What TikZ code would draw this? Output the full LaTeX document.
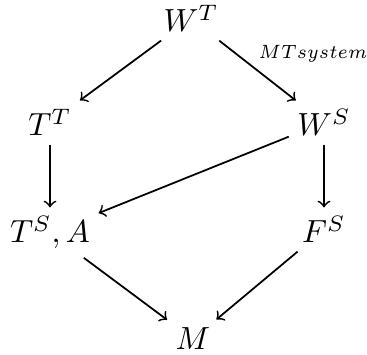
\documentclass[tikz,border=0pt]{standalone}
\begin{document}
\begin{tikzpicture}[x=0.3125pt,y=-0.3125pt,
  obj/.style={anchor=base,inner sep=2.5pt},
  arr/.style={->,line width=0.55pt}]
\useasboundingbox (0,0) rectangle (367,355);
\node[obj] (WT) at (191,32) {$W^T$};
\node[obj] (TT) at (50,136) {$T^T$};
\node[obj] (WS) at (324,136) {$W^S$};
\node[obj] (TSA) at (50,243) {$T^S,A$};
\node[obj] (FS) at (324,243) {$F^S$};
\node[obj] (M) at (193,350) {$M$};
\node[anchor=base west,inner sep=0pt] (lbl) at (258,59) {\scalebox{0.92}[1]{\fontsize{6}{7}\selectfont$MTsystem$}};
\draw[arr] (WT) -- (TT);
\draw[arr] (WT) -- (WS);
\draw[arr] (TT) -- (TSA);
\draw[arr] (WS) -- (FS);
\draw[arr] (WS) -- (TSA);
\draw[arr] (TSA) -- (M);
\draw[arr] (FS) -- (M);
\end{tikzpicture}
\end{document}
